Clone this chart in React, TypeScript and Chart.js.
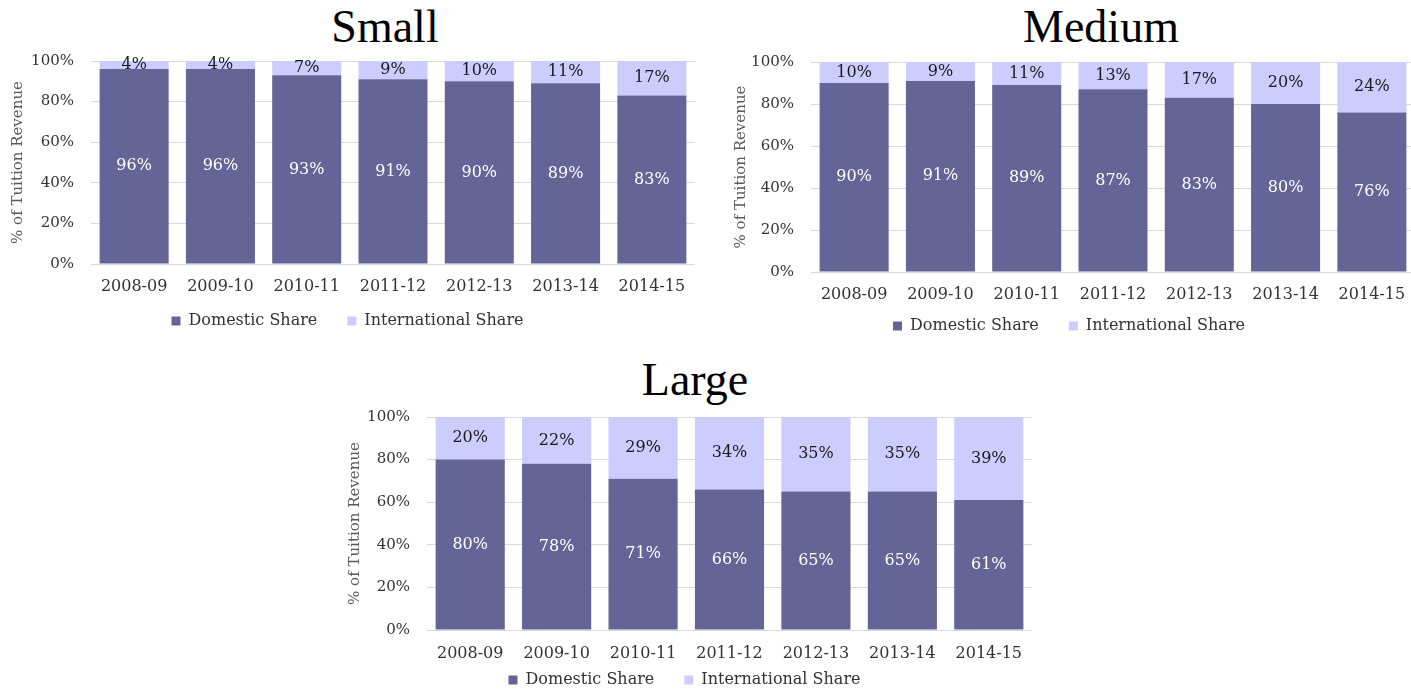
import React, { useEffect, useRef } from "react";
import Chart from "chart.js/auto";

const categories = ["2008-09", "2009-10", "2010-11", "2011-12", "2012-13", "2013-14", "2014-15"];
const seriesNames = ["Domestic Share", "International Share"];
const smallDomestic = [96, 96, 93, 91, 90, 89, 83];
const smallInternational = [4, 4, 7, 9, 10, 11, 17];
const mediumDomestic = [90, 91, 89, 87, 83, 80, 76];
const mediumInternational = [10, 9, 11, 13, 17, 20, 24];
const largeDomestic = [80, 78, 71, 66, 65, 65, 61];
const largeInternational = [20, 22, 29, 34, 35, 35, 39];
const yMin = 0;
const yMax = 100;
const yStep = 20;
const yAxisTitle = "% of Tuition Revenue";

const DOM_COLOR = "#646496";
const INTL_COLOR = "#CCCCFF";
const FONT = "'DejaVu Serif', serif";

Chart.defaults.font.family = FONT;

type Box = {
  left: number; top: number; width: number; height: number;
  padTop: number; padRight: number; padBottom: number;
  yWidth: number; xHeight: number; xPad: number; legendShift: number;
};

const labelPlugin = {
  id: "segLabels",
  afterDatasetsDraw(chart: any) {
    const ctx = chart.ctx;
    chart.data.datasets.forEach((ds: any, di: number) => {
      const meta = chart.getDatasetMeta(di);
      meta.data.forEach((el: any, i: number) => {
        const p = el.getProps(["x", "y", "base"], true);
        ctx.save();
        ctx.font = `16px ${FONT}`;
        ctx.fillStyle = di === 0 ? "#ffffff" : "#1a1a1a";
        ctx.textAlign = "center";
        ctx.textBaseline = "middle";
        ctx.fillText(ds.data[i] + "%", p.x, (p.y + p.base) / 2);
        ctx.restore();
      });
    });
  },
};

function StackedChart({ domestic, international, box }: { domestic: number[]; international: number[]; box: Box }) {
  const ref = useRef<HTMLCanvasElement>(null);
  useEffect(() => {
    const legendShiftPlugin = {
      id: "legendShift",
      afterLayout(chart: any) {
        const lg = chart.legend;
        if (lg) {
          lg.top -= box.legendShift;
          lg.bottom -= box.legendShift;
        }
      },
    };
    const chart = new Chart(ref.current as HTMLCanvasElement, {
      type: "bar",
      data: {
        labels: categories,
        datasets: [
          { label: seriesNames[0], data: domestic, backgroundColor: DOM_COLOR, barPercentage: 0.8, categoryPercentage: 1 },
          { label: seriesNames[1], data: international, backgroundColor: INTL_COLOR, barPercentage: 0.8, categoryPercentage: 1 },
        ],
      },
      options: {
        responsive: false,
        animation: false,
        layout: { padding: { top: box.padTop, right: box.padRight, bottom: box.padBottom, left: 0 } },
        plugins: {
          legend: {
            position: "bottom",
            labels: { font: { family: FONT, size: 16 }, color: "#333333", boxWidth: 9, boxHeight: 9, padding: 30 },
          },
          tooltip: { enabled: false },
          title: { display: false },
        },
        scales: {
          x: {
            stacked: true,
            grid: { display: false, drawTicks: false },
            border: { display: false },
            ticks: { font: { family: FONT, size: 16 }, color: "#333333", padding: box.xPad, maxRotation: 0, autoSkip: false },
            afterFit: (s: any) => { s.height = box.xHeight; },
          },
          y: {
            stacked: true,
            min: yMin,
            max: yMax,
            ticks: {
              stepSize: yStep,
              callback: (v: any) => v + "%",
              padding: 17,
              font: { family: FONT, size: 15 },
              color: "#333333",
            },
            grid: { color: "#d9d9d9", drawTicks: false, lineWidth: 1 },
            border: { display: false },
            title: {
              display: true,
              text: yAxisTitle,
              font: { family: FONT, size: 15 },
              color: "#595959",
              padding: { top: 9, bottom: 0 },
            },
            afterFit: (s: any) => { s.width = box.yWidth; },
          },
        },
      },
      plugins: [labelPlugin, legendShiftPlugin],
    } as any);
    return () => chart.destroy();
  }, []);
  return (
    <canvas
      ref={ref}
      width={box.width}
      height={box.height}
      style={{ position: "absolute", left: box.left, top: box.top, width: box.width, height: box.height, display: "block" }}
    />
  );
}

function Title({ text, cx, top }: { text: string; cx: number; top: number }) {
  return (
    <div
      style={{
        position: "absolute",
        left: cx - 200,
        top,
        width: 400,
        textAlign: "center",
        fontFamily: "'Liberation Serif', serif",
        fontSize: 46,
        lineHeight: "46px",
        color: "#000",
      }}
    >
      {text}
    </div>
  );
}

const smallBox: Box = { left: 0, top: 0, width: 714, height: 361, padTop: 61, padRight: 19, padBottom: 5, yWidth: 91, xHeight: 36, xPad: 13, legendShift: 17 };
const mediumBox: Box = { left: 723, top: 0, width: 706, height: 369, padTop: 62, padRight: 14, padBottom: 5, yWidth: 88, xHeight: 36, xPad: 13, legendShift: 20 };
const largeBox: Box = { left: 337, top: 360, width: 712, height: 367, padTop: 57, padRight: 17, padBottom: 5, yWidth: 90, xHeight: 36, xPad: 14, legendShift: 24 };

export default function App() {
  return (
    <div style={{ position: "absolute", left: 0, top: 0, width: 1411, height: 692, overflow: "hidden", background: "#fff" }}>
      <Title text="Small" cx={385} top={3.5} />
      <Title text="Medium" cx={1101} top={3.5} />
      <Title text="Large" cx={695} top={356.5} />
      <StackedChart domestic={smallDomestic} international={smallInternational} box={smallBox} />
      <StackedChart domestic={mediumDomestic} international={mediumInternational} box={mediumBox} />
      <StackedChart domestic={largeDomestic} international={largeInternational} box={largeBox} />
    </div>
  );
}
